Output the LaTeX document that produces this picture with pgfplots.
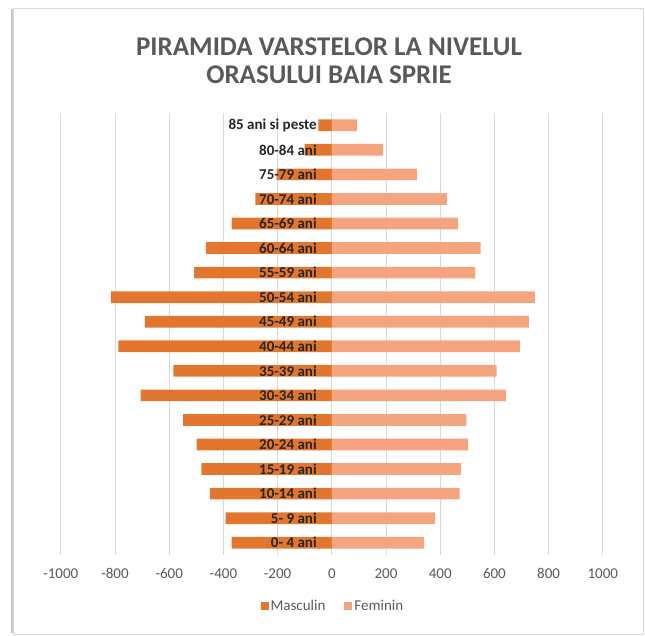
\documentclass[border=0pt]{standalone}
\usepackage{fontspec}
\setmainfont{Carlito}
\usepackage{pgfplots}
\pgfplotsset{compat=1.18}

\definecolor{masc}{HTML}{E2762F}
\definecolor{fem}{HTML}{F4A47E}
\definecolor{txtgrey}{HTML}{595959}
\definecolor{gridgrey}{HTML}{D9D9D9}

% small square legend markers like Excel
\pgfplotsset{sqlegend/.style={legend image code/.code={\fill[##1,draw=none] (0pt,-4pt) rectangle (8pt,4pt);}}}

\begin{document}
\begin{tikzpicture}
\useasboundingbox (0pt,0pt) rectangle (645pt,635pt);
\draw[black!22, line width=1.6pt] (12pt,2pt) -- (12pt,626pt);
\draw[gridgrey, line width=0.8pt] (13pt,1pt) rectangle (643pt,627pt);

\node[font=\fontsize{27}{28}\selectfont\bfseries, text=txtgrey, align=center]
  at (329pt,574pt) {PIRAMIDA VARSTELOR LA NIVELUL\\ORASULUI BAIA SPRIE};

\begin{axis}[at={(60.8pt,80pt)}, anchor=south west, scale only axis,
  width=542pt, height=442pt,
  xmin=-1000, xmax=1000, ymin=-0.5, ymax=17.5,
  xtick={-1000,-800,...,1000}, ytick=\empty,
  xmajorgrids, grid style={gridgrey, line width=0.8pt},
  axis line style={draw=none}, major tick length=0pt,
  /pgf/number format/assume math mode=true,
  /pgf/number format/1000 sep={},
  xticklabel style={font=\fontsize{15}{15}\selectfont, text=txtgrey, anchor=base, yshift=-23pt},
  legend style={at={(0.502,-0.1154)}, anchor=center, draw=none, fill=none,
    font=\fontsize{15}{15}\selectfont, text=txtgrey,
    /tikz/every even column/.append style={column sep=17pt}},
  legend columns=2, legend cell align=left,
  clip=false]

\addplot[xbar, bar width=11.7pt, bar shift=0pt, fill=masc, draw=none, sqlegend] coordinates {
  (-370,0) (-392,1) (-450,2) (-481,3) (-499,4) (-549,5) (-705,6) (-585,7) (-788,8)
  (-690,9) (-815,10) (-508,11) (-465,12) (-370,13) (-282,14) (-204,15) (-100,16) (-50,17)};
\addplot[xbar, bar width=11.7pt, bar shift=0pt, fill=fem, draw=none, sqlegend] coordinates {
  (341,0) (380,1) (472,2) (476,3) (503,4) (497,5) (642,6) (608,7) (694,8)
  (727,9) (749,10) (530,11) (549,12) (466,13) (425,14) (315,15) (189,16) (93,17)};
\legend{Masculin, Feminin}

\tikzset{agelab/.style={anchor=east, inner sep=0pt, text=black!85,
  font=\fontsize{15}{15}\selectfont\bfseries}}
\node[agelab] at (axis cs:-55,0) {0- 4 ani};
\node[agelab] at (axis cs:-55,1) {5- 9 ani};
\node[agelab] at (axis cs:-55,2) {10-14 ani};
\node[agelab] at (axis cs:-55,3) {15-19 ani};
\node[agelab] at (axis cs:-55,4) {20-24 ani};
\node[agelab] at (axis cs:-55,5) {25-29 ani};
\node[agelab] at (axis cs:-55,6) {30-34 ani};
\node[agelab] at (axis cs:-55,7) {35-39 ani};
\node[agelab] at (axis cs:-55,8) {40-44 ani};
\node[agelab] at (axis cs:-55,9) {45-49 ani};
\node[agelab] at (axis cs:-55,10) {50-54 ani};
\node[agelab] at (axis cs:-55,11) {55-59 ani};
\node[agelab] at (axis cs:-55,12) {60-64 ani};
\node[agelab] at (axis cs:-55,13) {65-69 ani};
\node[agelab] at (axis cs:-55,14) {70-74 ani};
\node[agelab] at (axis cs:-55,15) {75-79 ani};
\node[agelab] at (axis cs:-55,16) {80-84 ani};
\node[agelab] at (axis cs:-55,17) {85 ani si peste};
\end{axis}
\end{tikzpicture}
\end{document}
